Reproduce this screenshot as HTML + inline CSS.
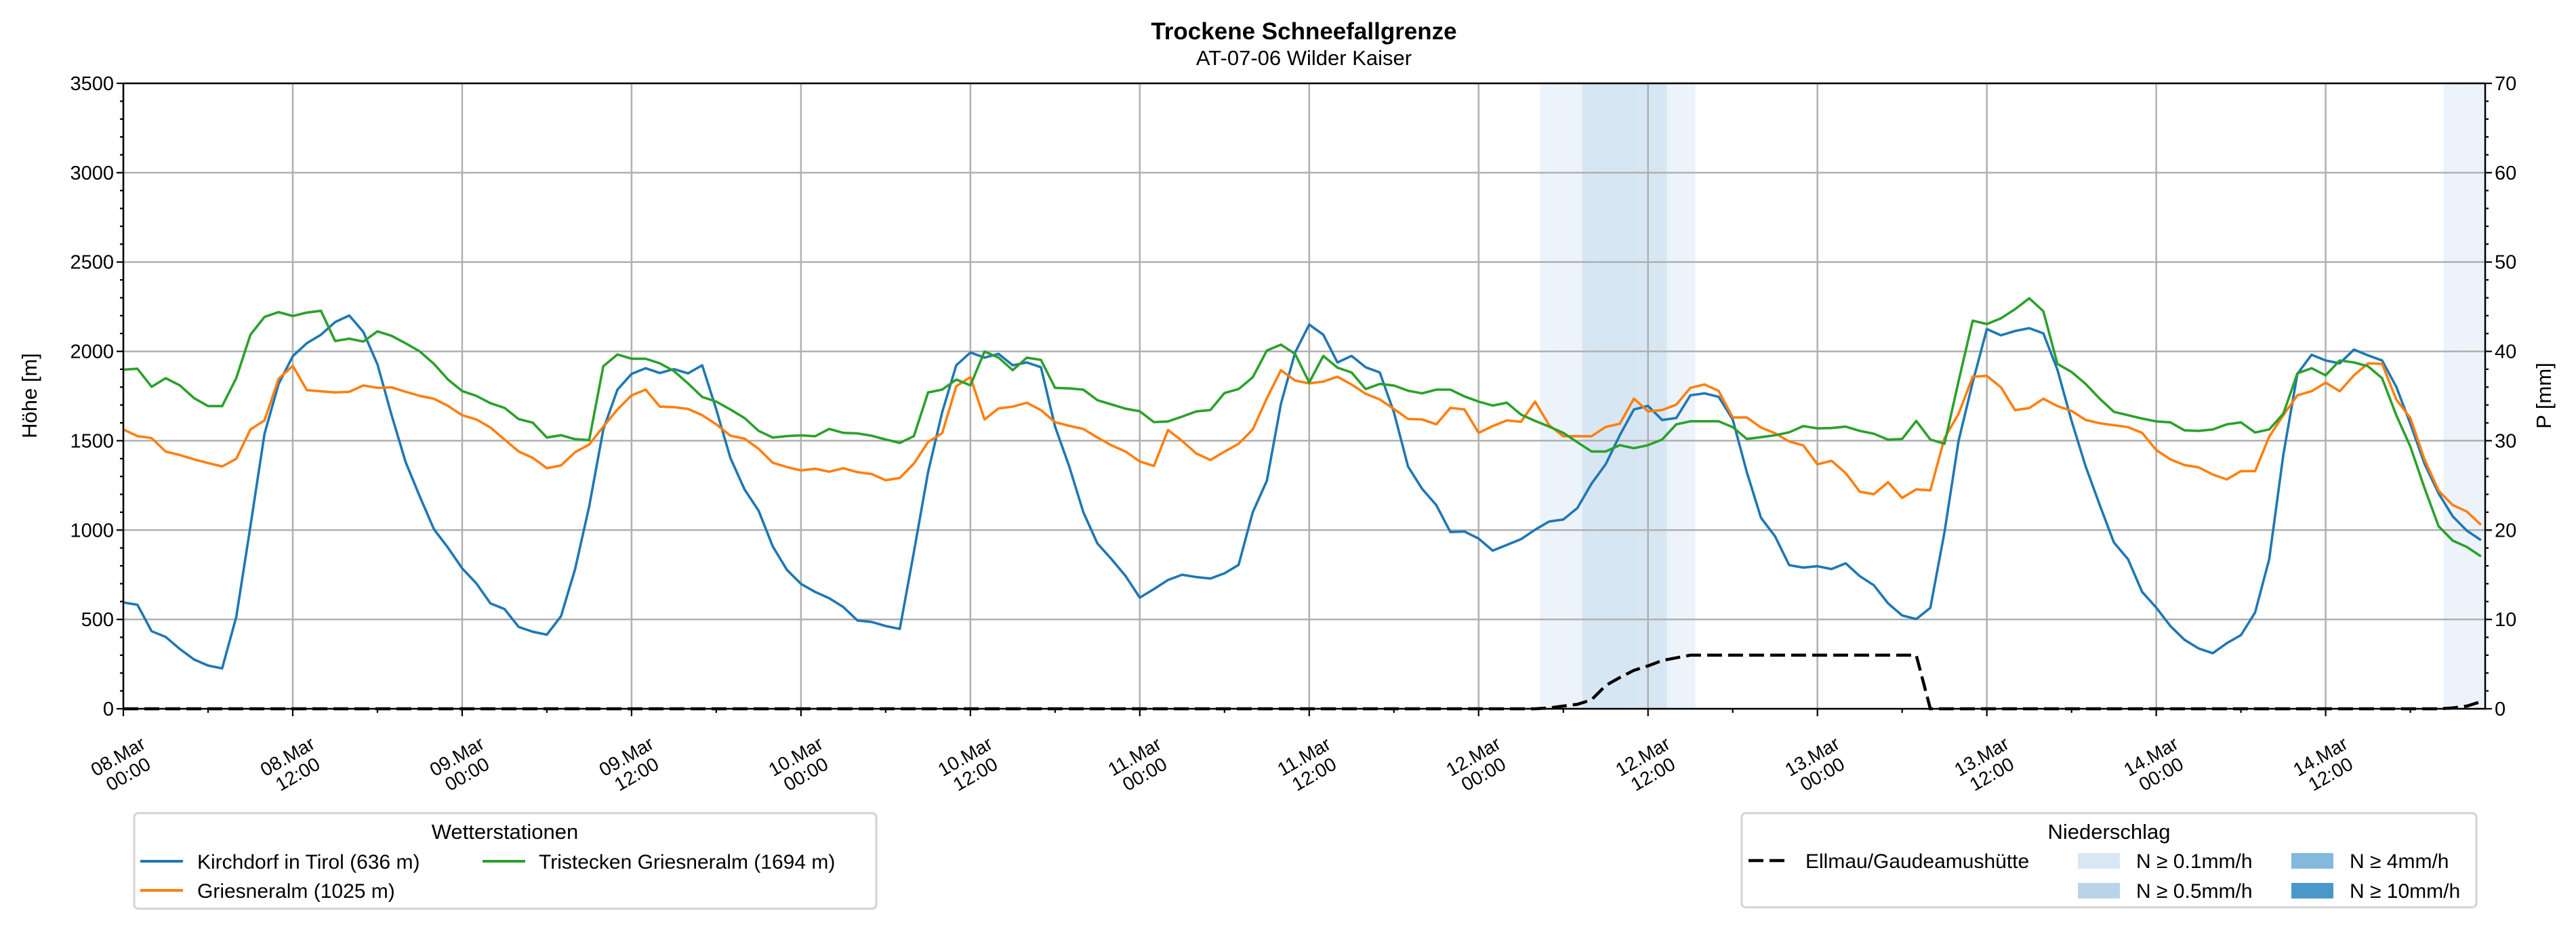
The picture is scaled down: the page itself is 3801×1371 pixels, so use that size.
<!DOCTYPE html>
<html><head><meta charset="utf-8"><style>
html,body{margin:0;padding:0;background:#fff;}
svg{display:block;font-family:"Liberation Sans",sans-serif;}
</style></head><body>
<svg id="chart" width="3801" height="1371" viewBox="0 0 3801 1371" xmlns="http://www.w3.org/2000/svg">
<text x="1924" y="58" font-size="35" font-weight="bold" text-anchor="middle">Trockene Schneefallgrenze</text>
<text x="1924" y="96" font-size="31" text-anchor="middle">AT-07-06 Wilder Kaiser</text>
<g id="plot"></g>
<text transform="translate(54,584) rotate(-90)" font-size="31" text-anchor="middle">Höhe [m]</text>
<text transform="translate(3764,584) rotate(-90)" font-size="31" text-anchor="middle">P [mm]</text>
<g>
<rect x="198" y="1200" width="1095" height="141" rx="6" fill="#fff" stroke="#d3d3d3" stroke-width="3"/>
<text x="745" y="1238" font-size="31" text-anchor="middle">Wetterstationen</text>
<g><line x1="207" y1="1271" x2="270" y2="1271" stroke="#1f77b4" stroke-width="4"/><text x="291" y="1282" font-size="30">Kirchdorf in Tirol (636 m)</text></g>
<g><line x1="712" y1="1271" x2="775" y2="1271" stroke="#2ca02c" stroke-width="4"/><text x="795" y="1282" font-size="30">Tristecken Griesneralm  (1694 m)</text></g>
<g><line x1="207" y1="1314" x2="270" y2="1314" stroke="#ff7f0e" stroke-width="4"/><text x="291" y="1325" font-size="30">Griesneralm (1025 m)</text></g>
</g>
<g>
<rect x="2570" y="1200" width="1084" height="139" rx="6" fill="#fff" stroke="#d3d3d3" stroke-width="3"/>
<text x="3112" y="1238" font-size="31" text-anchor="middle">Niederschlag</text>
<g><line x1="2580" y1="1270" x2="2637" y2="1270" stroke="#000" stroke-width="4.5" stroke-dasharray="22,9"/><text x="2664" y="1281" font-size="30">Ellmau/Gaudeamushütte</text></g>
<g><rect x="3066" y="1259" width="62" height="23" fill="#d9e7f5"/><text x="3152" y="1281" font-size="30">N ≥ 0.1mm/h</text></g>
<g><rect x="3066" y="1303" width="62" height="23" fill="#b9d4ea"/><text x="3152" y="1325" font-size="30">N ≥ 0.5mm/h</text></g>
<g><rect x="3381" y="1259" width="62" height="23" fill="#82b9dc"/><text x="3467" y="1281" font-size="30">N ≥ 4mm/h</text></g>
<g><rect x="3381" y="1303" width="62" height="23" fill="#4a98c9"/><text x="3467" y="1325" font-size="30">N ≥ 10mm/h</text></g>
</g>
</svg>
<script>
const hours = Array.from({length:168},(_,i)=>i);
const kirchdorf = [595,582,434,402,335,276,242,226,514,1021,1539,1818,1973,2046,2093,2164,2201,2109,1927,1643,1380,1188,1005,901,786,702,590,558,458,431,415,518,782,1133,1563,1786,1874,1906,1879,1901,1877,1922,1675,1404,
1228,1108,909,778,699,654,619,569,494,486,463,447,877,1324,1659,1922,1994,1965,1986,1922,1938,1911,1579,1356,1100,925,837,742,622,670,721,750,737,729,758,805,1100,1276,1707,1994,2150,2093,
1938,1975,1911,1882,1659,1356,1231,1140,989,992,952,885,917,949,1002,1048,1059,1124,1260,1368,1531,1675,1695,1616,1627,1754,1765,1746,1619,1324,1069,965,804,790,798,782,814,742,691,590,522,502,
565,989,1500,1827,2125,2090,2114,2130,2101,1898,1611,1356,1140,931,837,654,566,463,386,338,311,367,412,539,837,1420,1874,1981,1949,1933,2010,1978,1949,1802,1595,1372,1205,1077,997,944];
const griesneralm = [1563,1526,1515,1439,1420,1396,1375,1356,1399,1563,1614,1847,1919,1783,1777,1770,1774,1809,1796,1799,1774,1751,1735,1695,1643,1619,1574,1507,1440,1404,1346,1362,1436,1479,1579,1675,1754,1786,1691,1688,1678,1643,1592,1528,
1512,1455,1377,1353,1334,1343,1327,1346,1324,1314,1279,1292,1372,1493,1542,1805,1856,1619,1681,1691,1713,1671,1604,1583,1566,1518,1474,1439,1384,1359,1560,1499,1429,1392,1439,1483,1563,1738,1895,1837,1821,1831,
1858,1815,1763,1731,1678,1622,1619,1592,1684,1675,1544,1582,1614,1606,1719,1587,1525,1525,1525,1577,1595,1736,1664,1672,1702,1796,1815,1779,1630,1630,1574,1542,1496,1474,1368,1388,1319,1215,1201,1268,1180,1228,
1222,1515,1651,1858,1863,1799,1671,1683,1735,1694,1667,1616,1598,1587,1576,1544,1448,1396,1364,1351,1311,1284,1330,1330,1523,1643,1754,1777,1825,1777,1866,1933,1930,1731,1627,1396,1220,1140,1104,1029];
const tristecken = [1898,1903,1802,1850,1810,1739,1694,1694,1850,2093,2193,2220,2198,2217,2227,2058,2071,2055,2112,2087,2045,2000,1930,1842,1778,1751,1710,1684,1621,1601,1518,1531,1509,1504,1917,1983,1959,1959,1933,1890,1821,1745,1719,1675,
1627,1555,1518,1526,1530,1525,1566,1544,1541,1528,1507,1488,1526,1770,1786,1842,1810,1999,1965,1895,1965,1952,1796,1793,1786,1727,1703,1679,1665,1604,1608,1635,1664,1672,1767,1789,1855,2005,2038,1986,1826,1975,
1909,1882,1789,1818,1809,1780,1765,1786,1786,1748,1719,1697,1713,1646,1611,1579,1544,1491,1440,1440,1475,1458,1475,1507,1592,1609,1609,1609,1576,1510,1520,1531,1547,1582,1569,1571,1579,1555,1539,1506,1510,1611,
1507,1483,1834,2172,2153,2185,2236,2297,2225,1930,1885,1818,1735,1662,1643,1624,1608,1603,1558,1555,1563,1592,1603,1546,1563,1651,1877,1906,1866,1949,1938,1917,1850,1643,1467,1236,1021,941,906,853];
const precipSum = [].concat(new Array(101).fill(0),[0.1,0.3,0.5,1.0,2.6,3.5,4.3,4.8,5.4,5.7],new Array(17).fill(6.0),new Array(37).fill(0),[0.1,0.3,0.8]);
const intensityHours = [100,101,102,103,104,105,106,107,108,109,110,164,165,166,167];
const intensityClass = [1,1,1,2,2,2,2,2,2,1,1,1,1,1,1];
const yTicks = [0,500,1000,1500,2000,2500,3000,3500];
const y2Ticks = [0,10,20,30,40,50,60,70];
const xTickDays = ["08.Mar","08.Mar","09.Mar","09.Mar","10.Mar","10.Mar","11.Mar","11.Mar","12.Mar","12.Mar","13.Mar","13.Mar","14.Mar","14.Mar"];
const xTickTimes = ["00:00","12:00","00:00","12:00","00:00","12:00","00:00","12:00","00:00","12:00","00:00","12:00","00:00","12:00"];

const L=182,R=3667,T=123,B=1046,HMAX=167.3,BAR_OFF=0.35;
const X=h=>L+h*(R-L)/HMAX;
const Y=v=>B-v*(B-T)/3500;
const Y2=v=>B-v*(B-T)/70;
const NS="http://www.w3.org/2000/svg";
const plot=document.getElementById('plot');
function mk(tag,attrs,parent){const e=document.createElementNS(NS,tag);for(const k in attrs)e.setAttribute(k,attrs[k]);(parent||plot).appendChild(e);return e;}

const classColor=['none','#edf3fa','#d7e6f3','#9ec8e4','#4a98c9'];
intensityHours.forEach((h,i)=>{
  const x0=X(h+BAR_OFF),x1=Math.min(X(h+1+BAR_OFF),R);
  if(x1<=x0) return;
  const r=mk('rect',{x:x0,y:T,width:x1-x0,height:B-T,fill:classColor[intensityClass[i]]});
  
  
});
for(let i=0;i<=13;i++){const g=mk('line',{x1:X(i*12),x2:X(i*12),y1:T,y2:B,stroke:'#b0b0b0','stroke-width':2.5});}
yTicks.forEach(v=>{const g=mk('line',{x1:L,x2:R,y1:Y(v),y2:Y(v),stroke:'#b0b0b0','stroke-width':2.5});});
function series(arr,color,name){
  const p=mk('polyline',{points:arr.map((v,i)=>X(hours[i]).toFixed(1)+','+Y(v).toFixed(1)).join(' '),fill:'none',stroke:color,'stroke-width':3.6,'stroke-linejoin':'round'});
  
  
}
series(kirchdorf,'#1f77b4','kirchdorf-line');
series(griesneralm,'#ff7f0e','griesneralm-line');
series(tristecken,'#2ca02c','tristecken-line');
const pl=mk('polyline',{points:precipSum.map((v,i)=>X(hours[i]).toFixed(1)+','+Y2(v).toFixed(1)).join(' '),fill:'none',stroke:'#000','stroke-width':4.5,'stroke-dasharray':'22,9'});


const sp=mk('rect',{x:L,y:T,width:R-L,height:B-T,fill:'none',stroke:'#000','stroke-width':2.5});


for(let v=0;v<=3500;v+=100){const major=v%500===0;mk('line',{x1:L,x2:L-(major?10:5),y1:Y(v),y2:Y(v),stroke:'#000','stroke-width':2.2});}
yTicks.forEach(v=>{const t=mk('text',{x:L-14,y:Y(v)+10,'font-size':29,'text-anchor':'end'});t.textContent=v;});
for(let v=0;v<=70;v+=2){const major=v%10===0;mk('line',{x1:R,x2:R+(major?10:5),y1:Y2(v),y2:Y2(v),stroke:'#000','stroke-width':2.2});}
y2Ticks.forEach(v=>{const t=mk('text',{x:R+14,y:Y2(v)+10,'font-size':29,'text-anchor':'start'});t.textContent=v;});
for(let h=0;h<=HMAX;h+=6){const major=h%12===0;mk('line',{x1:X(h),x2:X(h),y1:B,y2:B+(major?11:6),stroke:'#000','stroke-width':2.2});}
xTickDays.forEach((d,i)=>{
  const cx=X(i*12),cy=1130;
  const g=mk('g',{transform:`translate(${cx},${cy}) rotate(-30)`});
  
  
  const t1=mk('text',{x:0,y:-6,'font-size':28,'text-anchor':'middle'},g);t1.textContent=d;
  const t2=mk('text',{x:0,y:24,'font-size':28,'text-anchor':'middle'},g);t2.textContent=xTickTimes[i];
});
</script>
</body></html>
